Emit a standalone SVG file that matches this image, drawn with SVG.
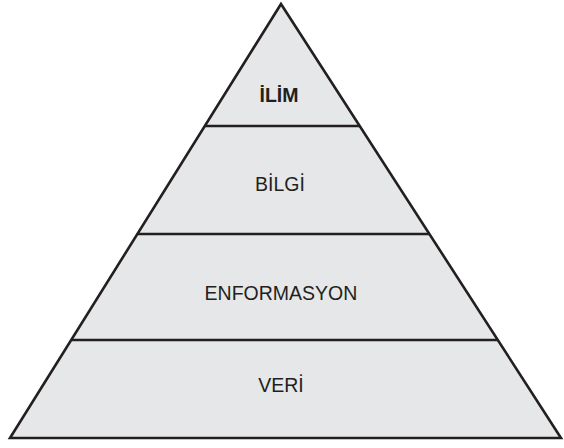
<svg xmlns="http://www.w3.org/2000/svg" width="564" height="448" viewBox="0 0 564 448">
<style>
.shape{fill:#e6e7e8;stroke:#231f20;stroke-width:2.6;stroke-linejoin:miter}
.sep{stroke:#231f20;stroke-width:2.6;fill:none}
.lbl{font-family:"Liberation Sans",Arial,sans-serif;font-size:19.5px;fill:#231f20;text-anchor:middle}
.bold{font-weight:bold}
</style>
<rect width="564" height="448" fill="#ffffff"/>
<g id="pyramid">
<polygon class="shape" points="281,4 561,438 10,438"/>
</g>
<g id="connectors">
<line class="sep" x1="205" y1="126" x2="360" y2="126"/>
<line class="sep" x1="137.5" y1="234" x2="429.5" y2="234"/>
<line class="sep" x1="71" y1="340" x2="498" y2="340"/>
</g>
<g id="ilim"><text class="lbl bold" x="279" y="102">İLİM</text></g>
<g id="bilgi"><text class="lbl" x="280" y="191">BİLGİ</text></g>
<g id="enformasyon"><text class="lbl" x="281" y="300">ENFORMASYON</text></g>
<g id="veri"><text class="lbl" x="281" y="392">VERİ</text></g>
</svg>
